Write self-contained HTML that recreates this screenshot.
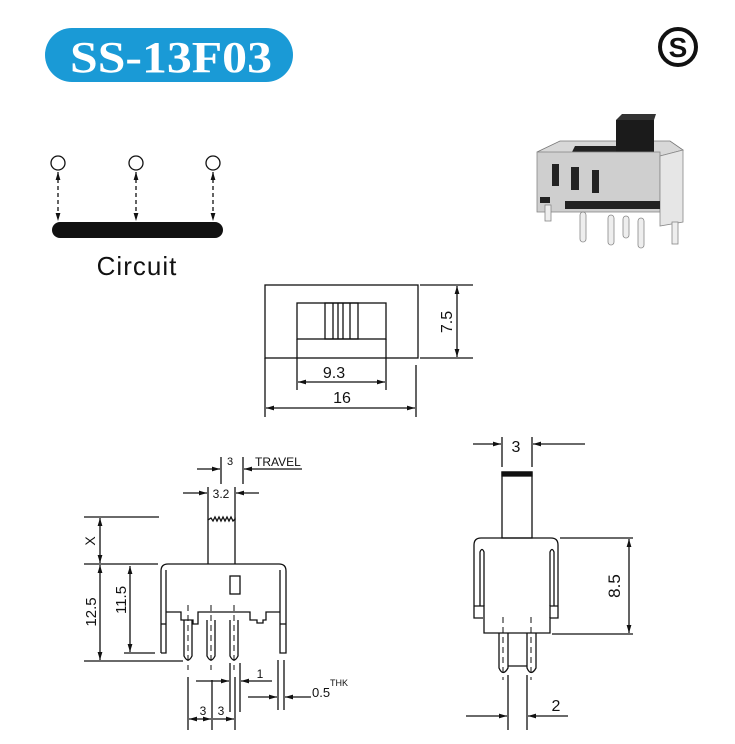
<!DOCTYPE html>
<html><head><meta charset="utf-8"><style>
html,body{margin:0;padding:0;background:#fff;}
svg{display:block;}
text{font-family:"Liberation Sans",sans-serif;fill:#111;}
</style></head><body>
<svg width="735" height="744" viewBox="0 0 735 744" xmlns="http://www.w3.org/2000/svg">
<defs>
<marker id="a" viewBox="0 0 10 6" refX="10" refY="3" markerWidth="8" markerHeight="5" orient="auto-start-reverse" markerUnits="userSpaceOnUse"><path d="M0,0 L10,3 L0,6 z" fill="#111"/></marker>
</defs>
<!-- Title -->
<rect x="45" y="28" width="248" height="54" rx="27" fill="#1a9ad6"/>
<text x="70" y="72" textLength="202" lengthAdjust="spacingAndGlyphs" style="font-family:'Liberation Serif',serif;font-weight:bold;font-size:44px;fill:#fff">SS-13F03</text>
<!-- Logo -->
<circle cx="678" cy="47" r="18" fill="none" stroke="#111" stroke-width="4"/>
<text x="678" y="57" text-anchor="middle" style="font-weight:bold;font-size:28px">S</text>
<!-- Circuit -->
<g fill="none" stroke="#111" stroke-width="1.3">
<circle cx="58" cy="163" r="7"/><circle cx="136" cy="163" r="7"/><circle cx="213" cy="163" r="7"/>
<g stroke-dasharray="4,3" marker-start="url(#a)" marker-end="url(#a)">
<line x1="58" y1="172" x2="58" y2="221"/><line x1="136" y1="172" x2="136" y2="221"/><line x1="213" y1="172" x2="213" y2="221"/>
</g></g>
<rect x="52" y="222" width="171" height="16" rx="8" fill="#111"/>
<text x="137" y="275" text-anchor="middle" font-size="26" letter-spacing="1">Circuit</text>
<!-- Photo -->
<g>
<polygon points="537,152 560,141 670,141 683,150 660,156" fill="#d8d8d8" stroke="#777" stroke-width="0.8"/>
<polygon points="575,146 616,146 616,158 570,156" fill="#222"/>
<rect x="616" y="120" width="38" height="40" fill="#1b1b1b"/>
<polygon points="616,120 622,114 656,114 654,120" fill="#333"/>
<rect x="537" y="152" width="123" height="60" fill="#cfcfcf" stroke="#888" stroke-width="0.8"/>
<polygon points="660,156 683,150 683,222 660,226" fill="#e6e6e6" stroke="#888" stroke-width="0.8"/>
<rect x="552" y="164" width="7" height="22" fill="#222"/>
<rect x="571" y="167" width="8" height="23" fill="#222"/>
<rect x="592" y="170" width="7" height="23" fill="#222"/>
<rect x="565" y="201" width="95" height="8" fill="#222"/>
<rect x="540" y="197" width="10" height="6" fill="#222"/>
<g fill="#eee" stroke="#888" stroke-width="0.8">
<rect x="545" y="205" width="6" height="16"/>
<rect x="580" y="212" width="6" height="30" rx="3"/>
<rect x="608" y="215" width="6" height="30" rx="3"/>
<rect x="623" y="216" width="6" height="22" rx="3"/>
<rect x="638" y="218" width="6" height="30" rx="3"/>
<rect x="672" y="222" width="6" height="22"/>
</g>
</g>
<!-- Top view -->
<g fill="none" stroke="#111" stroke-width="1.3">
<rect x="265" y="285" width="153" height="73"/>
<rect x="297" y="303" width="89" height="36"/>
<rect x="325" y="303" width="33" height="36"/>
<line x1="333" y1="303" x2="333" y2="339"/><line x1="338" y1="303" x2="338" y2="339"/><line x1="343" y1="303" x2="343" y2="339"/><line x1="350" y1="303" x2="350" y2="339"/>
<line x1="420" y1="285" x2="473" y2="285"/><line x1="420" y1="358" x2="473" y2="358"/>
<line x1="457" y1="286" x2="457" y2="357" marker-start="url(#a)" marker-end="url(#a)"/>
<line x1="297" y1="339" x2="297" y2="390"/><line x1="386" y1="339" x2="386" y2="390"/>
<line x1="298" y1="382" x2="385" y2="382" marker-start="url(#a)" marker-end="url(#a)"/>
<line x1="265" y1="358" x2="265" y2="417"/><line x1="416" y1="365" x2="416" y2="417"/>
<line x1="266" y1="408" x2="415" y2="408" marker-start="url(#a)" marker-end="url(#a)"/>
</g>
<text x="452" y="322" text-anchor="middle" font-size="16" transform="rotate(-90 452 322)">7.5</text>
<text x="334" y="378" text-anchor="middle" font-size="16">9.3</text>
<text x="342" y="403" text-anchor="middle" font-size="16">16</text>
<!-- Side view -->
<g fill="none" stroke="#111" stroke-width="1.3">
<line x1="197" y1="469" x2="220" y2="469" marker-end="url(#a)"/>
<line x1="302" y1="469" x2="244" y2="469" marker-end="url(#a)"/>
<line x1="221" y1="457" x2="221" y2="484"/><line x1="243" y1="457" x2="243" y2="484"/>
<line x1="183" y1="493" x2="207" y2="493" marker-end="url(#a)"/>
<line x1="259" y1="493" x2="236" y2="493" marker-end="url(#a)"/>
<line x1="208" y1="487" x2="208" y2="520"/><line x1="235" y1="487" x2="235" y2="520"/>
<path d="M208,564 L208,520 L211,518 L213,521 L215,517 L217,521 L219,517 L221,521 L223,517 L225,521 L227,517 L229,521 L231,517 L233,521 L235,519 L235,564"/>
<path d="M161,653 L161,571 Q161,564 168,564 L279,564 Q286,564 286,571 L286,653 L280,653 L280,570"/>
<path d="M161,653 L166,653 L166,570"/>
<line x1="161" y1="624" x2="166" y2="624"/><line x1="280" y1="624" x2="286" y2="624"/>
<path d="M166,612 L181,612 L181,620 L193,620 L193,624 L198,624 L198,612 L250,612 L250,620 L257,620 L257,623 L263,623 L263,620 L266,620 L266,612 L280,612"/>
<rect x="230" y="576" width="10" height="18"/>
<path d="M184,620 L184,656 Q188,664 192,656 L192,620"/>
<path d="M207,620 L207,656 Q211,664 215,656 L215,620"/>
<path d="M230,620 L230,656 Q234,664 238,656 L238,620"/>
<g stroke-dasharray="6,4" stroke-width="1"><line x1="188" y1="605" x2="188" y2="670"/><line x1="211" y1="605" x2="211" y2="670"/><line x1="234" y1="605" x2="234" y2="670"/></g>
<line x1="84" y1="517" x2="159" y2="517"/><line x1="84" y1="564" x2="158" y2="564"/><line x1="84" y1="661" x2="183" y2="661"/>
<line x1="100" y1="518" x2="100" y2="563" marker-start="url(#a)" marker-end="url(#a)"/>
<line x1="100" y1="565" x2="100" y2="660" marker-start="url(#a)" marker-end="url(#a)"/>
<line x1="130" y1="566" x2="130" y2="652" marker-start="url(#a)" marker-end="url(#a)"/>
<line x1="124" y1="653" x2="155" y2="653"/>
<line x1="188" y1="677" x2="188" y2="730"/><line x1="212" y1="680" x2="212" y2="730"/><line x1="235" y1="677" x2="235" y2="730"/>
<line x1="189" y1="719" x2="211" y2="719" marker-start="url(#a)" marker-end="url(#a)"/>
<line x1="213" y1="719" x2="234" y2="719" marker-end="url(#a)"/>
<line x1="230" y1="663" x2="230" y2="712"/><line x1="240" y1="663" x2="240" y2="712"/>
<line x1="196" y1="681" x2="229" y2="681" marker-end="url(#a)"/>
<line x1="272" y1="681" x2="241" y2="681" marker-end="url(#a)"/>
<line x1="278" y1="660" x2="278" y2="710"/><line x1="284" y1="660" x2="284" y2="710"/>
<line x1="248" y1="697" x2="277" y2="697" marker-end="url(#a)"/>
<line x1="311" y1="697" x2="285" y2="697" marker-end="url(#a)"/>
</g>
<text x="230" y="465" text-anchor="middle" font-size="11">3</text>
<text x="255" y="466" font-size="12">TRAVEL</text>
<text x="221" y="498" text-anchor="middle" font-size="12">3.2</text>
<text x="95" y="541" text-anchor="middle" font-size="14" transform="rotate(-90 95 541)">X</text>
<text x="96" y="612" text-anchor="middle" font-size="15" transform="rotate(-90 96 612)">12.5</text>
<text x="126" y="600" text-anchor="middle" font-size="15" transform="rotate(-90 126 600)">11.5</text>
<text x="203" y="715" text-anchor="middle" font-size="12">3</text>
<text x="221" y="715" text-anchor="middle" font-size="12">3</text>
<text x="260" y="678" text-anchor="middle" font-size="12">1</text>
<text x="312" y="697" font-size="13">0.5</text>
<text x="330" y="686" font-size="9">THK</text>
<!-- Right view -->
<g fill="none" stroke="#111" stroke-width="1.3">
<line x1="473" y1="444" x2="501" y2="444" marker-end="url(#a)"/>
<line x1="585" y1="444" x2="533" y2="444" marker-end="url(#a)"/>
<line x1="502" y1="437" x2="502" y2="467"/><line x1="532" y1="437" x2="532" y2="467"/>
<rect x="502" y="472" width="30" height="66"/>
<rect x="502" y="472" width="30" height="4" fill="#111"/>
<path d="M483,618 L474,618 L474,545 Q474,538 481,538 L551,538 Q558,538 558,545 L558,618 L550,618 L550,633 L484,633 L484,618"/>
<path d="M474,606 L484,606 L484,618"/><path d="M558,606 L550,606 L550,618"/>
<path d="M480,606 L480,552 Q482,547 484,552 L484,606"/>
<path d="M550,606 L550,552 Q552,547 554,552 L554,606"/>
<path d="M499,633 L499,668 Q503,677 508,668 L508,633"/>
<path d="M527,633 L527,668 Q531,677 536,668 L536,633"/>
<line x1="508" y1="666" x2="527" y2="666"/>
<g stroke-dasharray="6,4" stroke-width="1"><line x1="503" y1="617" x2="503" y2="680"/><line x1="531" y1="617" x2="531" y2="680"/></g>
<line x1="560" y1="538" x2="633" y2="538"/><line x1="552" y1="634" x2="633" y2="634"/>
<line x1="629" y1="539" x2="629" y2="633" marker-start="url(#a)" marker-end="url(#a)"/>
<line x1="508" y1="675" x2="508" y2="730"/><line x1="527" y1="675" x2="527" y2="730"/>
<line x1="466" y1="716" x2="507" y2="716" marker-end="url(#a)"/>
<line x1="568" y1="716" x2="528" y2="716" marker-end="url(#a)"/>
</g>
<text x="516" y="452" text-anchor="middle" font-size="16">3</text>
<text x="620" y="586" text-anchor="middle" font-size="17" transform="rotate(-90 620 586)">8.5</text>
<text x="556" y="711" text-anchor="middle" font-size="16">2</text>
</svg>
</body></html>
